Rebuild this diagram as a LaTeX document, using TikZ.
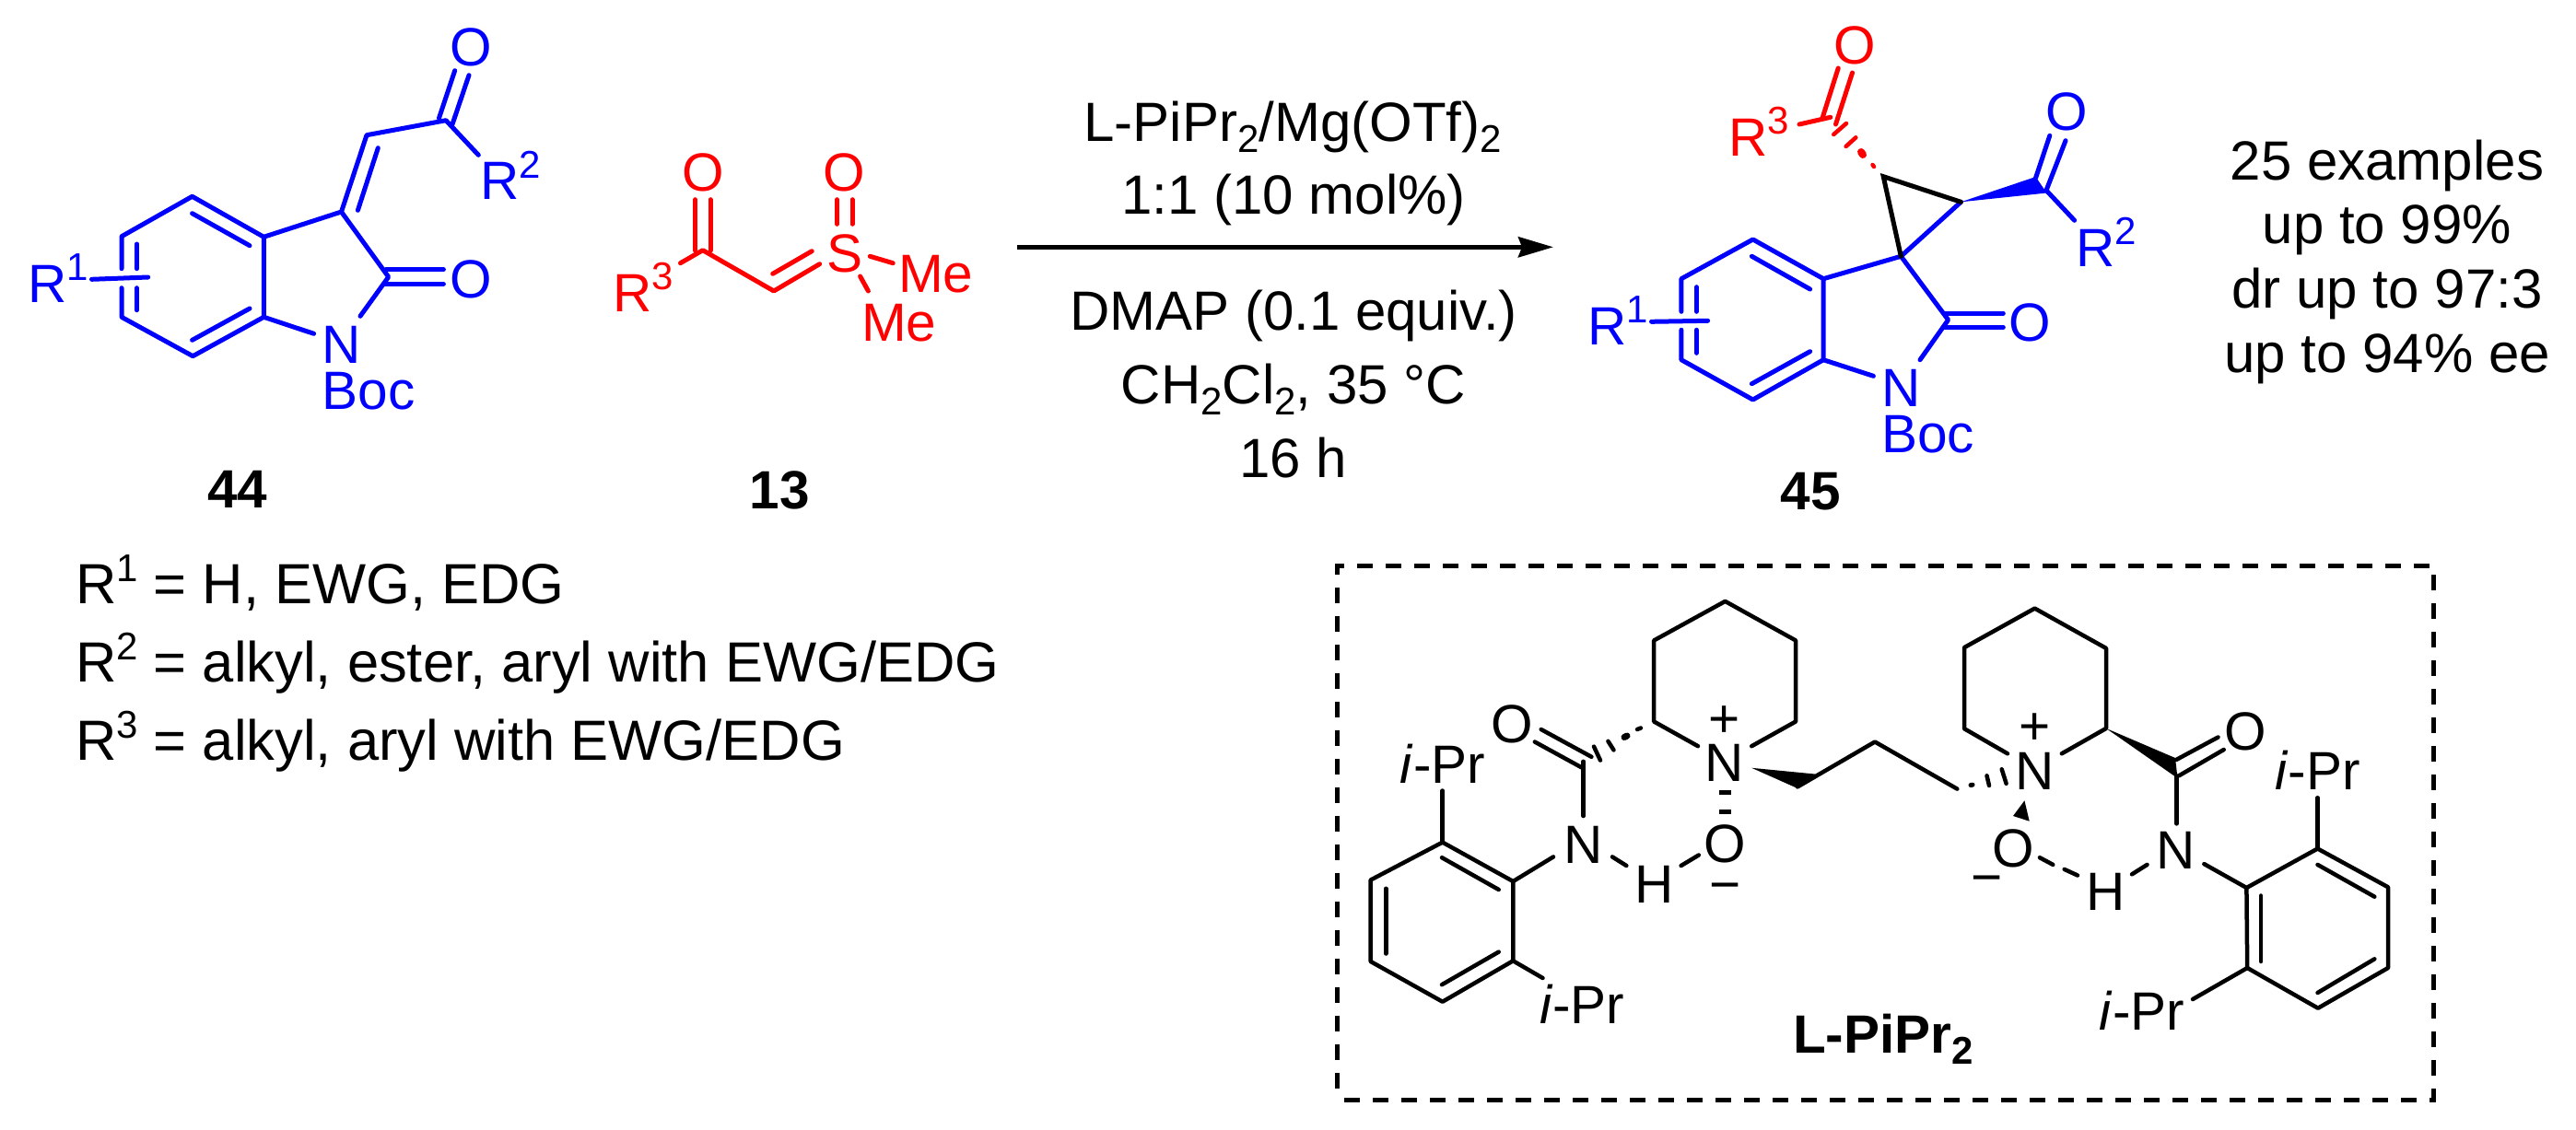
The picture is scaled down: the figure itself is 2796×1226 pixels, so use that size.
\documentclass[tikz,border=0pt]{standalone}
\usepackage{fontspec}
\setmainfont{Liberation Sans}
\usetikzlibrary{arrows.meta}
\definecolor{bl}{RGB}{0,0,255}
\definecolor{rd}{RGB}{255,0,0}
\newcommand\atomsize{\fontsize{58.5}{60}\selectfont}
\newcommand\textsize{\fontsize{60}{62}\selectfont}
\newcommand\defsize{\fontsize{61.5}{63}\selectfont}
\newcommand\supx[1]{\raisebox{23.5pt}{\fontsize{42}{44}\selectfont #1}}
\newcommand\subx[1]{\raisebox{-12pt}{\fontsize{42}{44}\selectfont #1}}
\tikzset{
  bond/.style={line width=4.5pt,line cap=round,line join=round},
  hashb/.style={line width=4.5pt,line cap=round},
  lw/.style={inner sep=0,outer sep=0,anchor=base west,font=\atomsize},
  lc/.style={inner sep=0,outer sep=0,anchor=base,font=\atomsize},
  tc/.style={inner sep=0,outer sep=0,anchor=base,font=\textsize},
  tw/.style={inner sep=0,outer sep=0,anchor=base west,font=\defsize},
  num/.style={inner sep=0,outer sep=0,anchor=base,font=\atomsize\bfseries},
  bluepart/.style={bond,line width=5pt,draw=bl},
  redpart/.style={bond,line width=5pt,draw=rd},
  blackpart/.style={bond,draw=black}
}
\begin{document}
\begin{tikzpicture}[x=1pt,y=-1pt]
\useasboundingbox (0,0) rectangle (2796,1226);
% ---------- compound 44 ----------
\coordinate (a1) at (132,256.7);\coordinate (a2) at (208.6,213.3);\coordinate (a3) at (286.3,257.3);
\coordinate (a4) at (286.3,344.3);\coordinate (a5) at (209.3,386.7);\coordinate (a6) at (132,344.3);
\coordinate (ac3) at (370.5,230);\coordinate (ach) at (398,146.7);\coordinate (aco) at (484,130.7);
\coordinate (ac2) at (421.7,300.7);\coordinate (agap1) at (132,291.7);\coordinate (agap2) at (132,312.7);
\coordinate (ar2e) at (519.3,168.3);\coordinate (an1) at (391,343.3);\coordinate (an2) at (340.6,362.3);
\coordinate (ar1a) at (99.5,303.3);\coordinate (ar1b) at (160.7,301);
\draw[bluepart] (agap1) -- (a1) -- (a2) -- (a3) -- (a4) -- (a5) -- (a6) -- (agap2);
\draw[bluepart] (a3) -- (ac3) -- (ach) -- (aco) -- (ar2e);
\draw[bluepart] (ac3) -- (ac2) -- (an1);
\draw[bluepart] (a4) -- (an2);
\draw[bluepart] (ar1a) -- (ar1b);
\draw[bluepart] (410.3,160.7) -- (388.4,228.3);
\draw[bluepart] (208.6,231.7) -- (271,266.7);
\draw[bluepart] (271,335) -- (208.6,369.3);
\draw[bluepart] (148.5,265) -- (148.5,291.7);
\draw[bluepart] (148.5,312.7) -- (148.5,336.7);
\draw[bluepart] (476.5,128.3) -- (493.7,76.7);
\draw[bluepart] (491,135) -- (509,81.7);
\draw[bluepart] (419,292.7) -- (481.4,292.7);
\draw[bluepart] (417,308.3) -- (481.4,308.3);
\node[lc,text=bl] (aO1) at (511,71) {O};
\node[lc,text=bl] (aO2) at (511,323) {O};
\node[lw,text=bl] (aR2) at (521.7,216.7) {R\supx{2}};
\node[lw,text=bl] (aR1) at (30.7,328.3) {R\supx{1}};
\node[lw,text=bl] (aN) at (349.7,394) {N};
\node[lw,text=bl] (aBoc) at (349.5,444) {Boc};
\node[num] (n44) at (258,551.7) {44};
% ---------- compound 13 ----------
\coordinate (bc) at (762.8,271.7);\coordinate (bch) at (839.9,316);\coordinate (br3) at (738.5,285.7);
\coordinate (bs) at (889.6,286.7);
\draw[redpart] (br3) -- (bc) -- (bch) -- (bs);
\draw[redpart] (838.7,297.3) -- (881.2,272.7);
\draw[redpart] (754.7,272) -- (754.7,216.7);
\draw[redpart] (771,272) -- (771,216.7);
\draw[redpart] (908.6,216.7) -- (908.6,243.3);
\draw[redpart] (925,216.7) -- (925,243.3);
\draw[redpart] (944.3,278.3) -- (969.2,285.7);
\draw[redpart] (933.6,300) -- (942.4,316);
\node[lc,text=rd] (bO1) at (762.9,207.5) {O};
\node[lc,text=rd] (bO2) at (916,207.5) {O};
\node[lc,text=rd] (bS) at (917,295) {S};
\node[lw,text=rd] (bR3) at (665,338.3) {R\supx{3}};
\node[lw,text=rd] (bMe1) at (975,317.3) {Me};
\node[lw,text=rd] (bMe2) at (935,370) {Me};
\node[num] (n13) at (846,552.7) {13};
% ---------- arrow and conditions ----------
\coordinate (arrA) at (1104,268.3);\coordinate (arrB) at (1686,268.3);
\draw[line width=5pt,-{Stealth[length=38pt,width=22pt,inset=4pt]}] (arrA) -- (arrB);
\node[tc] (c1) at (1403,153.3) {L-PiPr\subx{2}/Mg(OTf)\subx{2}};
\node[tc] (c2) at (1404,232.3) {1:1 (10 mol\%)};
\node[tc] (c3) at (1404,358.3) {DMAP (0.1 equiv.)};
\node[tc] (c4) at (1404,438) {CH\subx{2}Cl\subx{2}, 35 °C};
\node[tc] (c5) at (1404,518) {16 h};
% ---------- compound 45 ----------
\coordinate (b1) at (1824.9,302.7);\coordinate (b2) at (1902.6,260);\coordinate (b3) at (1979.1,302.7);
\coordinate (b4) at (1979.1,390.7);\coordinate (b5) at (1902.6,434);\coordinate (b6) at (1824.9,390.7);
\coordinate (ds) at (2063.3,278.3);\coordinate (dc2) at (2114.6,347.3);\coordinate (dtop) at (2044.2,191.7);
\coordinate (dright) at (2128.4,219.3);\coordinate (dco) at (2221,206.7);
\coordinate (dgap1) at (1824.9,338.3);\coordinate (dgap2) at (1824.9,358.3);
\coordinate (dn1) at (2084,390.7);\coordinate (dn2) at (2033.4,408.3);
\coordinate (dr2e) at (2251.6,239.3);
\coordinate (dr1a) at (1792.5,349.3);\coordinate (dr1b) at (1853.6,348.3);
\draw[bluepart] (dgap1) -- (b1) -- (b2) -- (b3) -- (b4) -- (b5) -- (b6) -- (dgap2);
\draw[bluepart] (b3) -- (ds) -- (dc2) -- (dn1);
\draw[bluepart] (b4) -- (dn2);
\draw[bluepart] (ds) -- (dright);
\draw[bluepart] (dco) -- (dr2e);
\draw[bluepart] (dr1a) -- (dr1b);
\draw[bluepart] (1901.4,278.3) -- (1964.6,314);
\draw[bluepart] (1964.6,381.7) -- (1901.4,416.7);
\draw[bluepart] (1841.3,311.7) -- (1841.3,338.3);
\draw[bluepart] (1841.3,358.3) -- (1841.3,383.3);
\draw[bluepart] (2111.9,340) -- (2174.3,340);
\draw[bluepart] (2110,355.3) -- (2174.3,355.3);
\draw[bluepart] (2209.5,193.3) -- (2224.8,147.3);
\draw[bluepart] (2221,206.7) -- (2242,152.7);
\fill[bl] (dright) -- (2209.5,192) -- (2221.5,209.5) -- cycle;
\draw[blackpart,line width=5pt,line join=miter] (ds) -- (dtop) -- (dright);
% red part
\draw[redpart] (1953,135) -- (1986.8,127.3);
\draw[redpart] (1978,128.3) -- (1995.2,74);
\draw[redpart] (1992.5,135) -- (2010.5,79);
\draw[hashb,draw=rd] (1990.2,146) -- (2004,134);
\draw[hashb,draw=rd] (2003.6,159) -- (2014.3,149.3);
\draw[line width=8pt,line cap=round,draw=rd] (2020,165) -- (2022,168);
\draw[hashb,draw=rd] (2032.5,179) -- (2034,181);
\node[lc,text=rd] (dO1) at (2013.2,69.5) {O};
\node[lc,text=bl] (dO2) at (2242.8,141) {O};
\node[lc,text=bl] (dO3) at (2203.7,370) {O};
\node[lw,text=rd] (dR3) at (1876.5,169.3) {R\supx{3}};
\node[lw,text=bl] (dR2) at (2253.5,289.3) {R\supx{2}};
\node[lw,text=bl] (dR1) at (1723.7,374.3) {R\supx{1}};
\node[lw,text=bl] (dN) at (2042.5,441.7) {N};
\node[lw,text=bl] (dBoc) at (2042.3,491.7) {Boc};
\node[num] (n45) at (1965,553.3) {45};
\node[inner sep=0,anchor=base,font=\textsize] (r1) at (2591,195) {25 examples};
\node[tc] (r2) at (2591,264.3) {up to 99\%};
\node[tc] (r3) at (2591,334) {dr up to 97:3};
\node[tc] (r4) at (2591,404) {up to 94\% ee};
% ---------- R definitions ----------
\node[tw] (d1) at (82,655) {R\supx{1} = H, EWG, EDG};
\node[tw] (d2) at (82,740) {R\supx{2} = alkyl, ester, aryl with EWG/EDG};
\node[tw] (d3) at (82,825) {R\supx{3} = alkyl, aryl with EWG/EDG};
% ---------- ligand box ----------
\coordinate (bxa) at (1451,614.3);\coordinate (bxb) at (2641.5,1194);
\draw[line width=5pt,dash pattern=on 17pt off 14pt] (1459,1194) -- (bxb) -- (2641.5,614.3) -- (bxa) -- (1451,1188);
% left aryl
\coordinate (c1a) at (1565.7,914.6);\coordinate (c2a) at (1642.3,957);\coordinate (c3a) at (1642.3,1043.3);
\coordinate (c4a) at (1565.7,1087.7);\coordinate (c5a) at (1487.7,1044);\coordinate (c6a) at (1487.7,955.5);
\draw[blackpart] (c1a) -- (c2a) -- (c3a) -- (c4a) -- (c5a) -- (c6a) -- cycle;
\draw[bond] (1565,931.2) -- (1626.7,966);
\draw[bond] (1626.7,1033.6) -- (1565,1069.2);
\draw[bond] (1504.3,964.8) -- (1504.3,1035.5);
\coordinate (ipt) at (1565.7,858.5);\coordinate (ipb) at (1674.5,1062);
\draw[bond] (c1a) -- (ipt);
\draw[bond] (c3a) -- (ipb);
\node[lc] (iP1) at (1566,850) {\textit{i}-Pr};
\node[lw] (iP2) at (1671,1111) {\textit{i}-Pr};
% left amide
\coordinate (lco) at (1718.6,826.8);\coordinate (lnu) at (1718.6,886);\coordinate (lnl) at (1686,930.4);
\draw[bond] (lco) -- (lnu);
\draw[bond] (lnl) -- (c2a);
\draw[bond] (1672.7,792) -- (1727.4,821.8);
\draw[bond] (1665.8,805.5) -- (1716.7,833.4);
\draw[bond] (1750,930.4) -- (1765.3,940);
\draw[bond] (1824.6,940) -- (1843.8,928.5);
\node[lc] (lO1) at (1641.3,806.5) {O};
\node[lw] (lN1) at (1697,937) {N};
\node[lw] (lH) at (1774.5,980.3) {H};
\node[lc] (lO2) at (1872.5,936.5) {O};
\node[lc] (lminus) at (1872.5,980) {−};
% hash to left amide
\draw[hashb] (1730,810.6) -- (1737,825.6);
\draw[hashb] (1745.4,804.8) -- (1751.5,814.4);
\draw[line width=7pt,line cap=round] (1763,800.5) -- (1766,799);
\draw[line width=4.5pt,line cap=round] (1777,792) -- (1781,790.5);
% left piperidine
\coordinate (p1) at (1872.5,652.9);\coordinate (p2) at (1949,695.4);\coordinate (p3) at (1949,783.5);
\coordinate (p5) at (1795.2,695.4);\coordinate (p6) at (1795.2,783.5);
\coordinate (pna) at (1843,810.2);\coordinate (pnb) at (1901.2,810.2);
\draw[bond] (pna) -- (p6) -- (p5) -- (p1) -- (p2) -- (p3) -- (pnb);
\node[lw] (pN) at (1850,848.8) {N};
\node[lc] (pplus) at (1872,800) {+};
\draw[line width=4.5pt] (1866,860.4) -- (1878.6,860.4);
\draw[line width=4.5pt] (1866,881.7) -- (1878.6,881.7);
% chain
\coordinate (ch1) at (1951,854.4);\coordinate (ch2) at (2035,805.5);\coordinate (ch3) at (2124.3,856.6);
\fill (1901.2,833.8) -- (1970,840.5) -- (1951,856) -- cycle;
\draw[bond] (ch1) -- (ch2) -- (ch3);
\draw[line width=5pt,line cap=round] (2139,852.5) -- (2141,852.2);
\draw[hashb] (2156.5,842.3) -- (2159,853);
\draw[hashb] (2172.7,835.3) -- (2177.6,850.8);
% right piperidine
\coordinate (q1) at (2208.5,660.6);\coordinate (q2) at (2286,703.9);\coordinate (q3) at (2286,790.9);
\coordinate (q5) at (2132,703.1);\coordinate (q6) at (2132,791.2);
\coordinate (qna) at (2179,818.3);\coordinate (qnb) at (2237.8,818.3);
\draw[bond] (qna) -- (q6) -- (q5) -- (q1) -- (q2) -- (q3) -- (qnb);
\node[lw] (qN) at (2187,857) {N};
\node[lc] (qplus) at (2208.5,808) {+};
\fill (2197.4,869.3) -- (2185,886) -- (2202.7,891.7) -- cycle;
\node[lc] (qO) at (2185,941.5) {O};
\node[lc] (qminus) at (2156.2,972.5) {−};
\draw[bond] (2213.9,931.2) -- (2228.3,938.9);
\draw[bond] (2240.6,943.9) -- (2255,950.5);
\node[lw] (qH) at (2264,988.4) {H};
\draw[bond] (2314,949.3) -- (2330.5,938.9);
\node[lw] (qN2) at (2340,943.9) {N};
% right amide
\coordinate (rco) at (2362.6,842.3);\coordinate (rnu) at (2362.6,894.4);
\draw[bond] (rco) -- (rnu);
\fill (q3) -- (2361,823) -- (2363.5,845) -- cycle;
\draw[bond] (2362.2,824.9) -- (2407.5,800.5);
\draw[bond] (2365,842.3) -- (2413.7,814);
\node[lc] (rO) at (2437.6,814) {O};
% right aryl
\coordinate (d1a) at (2438.4,964);\coordinate (d2a) at (2515.5,921.5);\coordinate (d3a) at (2592,963.3);
\coordinate (d4a) at (2592,1051);\coordinate (d5a) at (2515.9,1094.7);\coordinate (d6a) at (2439.2,1051);
\draw[blackpart] (d1a) -- (d2a) -- (d3a) -- (d4a) -- (d5a) -- (d6a) -- cycle;
\draw[bond] (2515.5,938.9) -- (2577.3,973.7);
\draw[bond] (2577.3,1041.3) -- (2515.5,1078);
\draw[bond] (2454,972.5) -- (2454,1044);
\coordinate (rn) at (2392.3,938.1);\coordinate (riu) at (2515.5,866.2);\coordinate (ril) at (2380,1085);
\draw[bond] (rn) -- (d1a);
\draw[bond] (d2a) -- (riu);
\draw[bond] (d6a) -- (ril);
\node[lc] (iP3) at (2515.5,857) {\textit{i}-Pr};
\node[lc] (iP4) at (2325,1118) {\textit{i}-Pr};
\node[inner sep=0,outer sep=0,anchor=base west,font=\atomsize\bfseries] (ligand) at (1946,1143.8) {L-PiPr\subx{2}};
\end{tikzpicture}
\end{document}
